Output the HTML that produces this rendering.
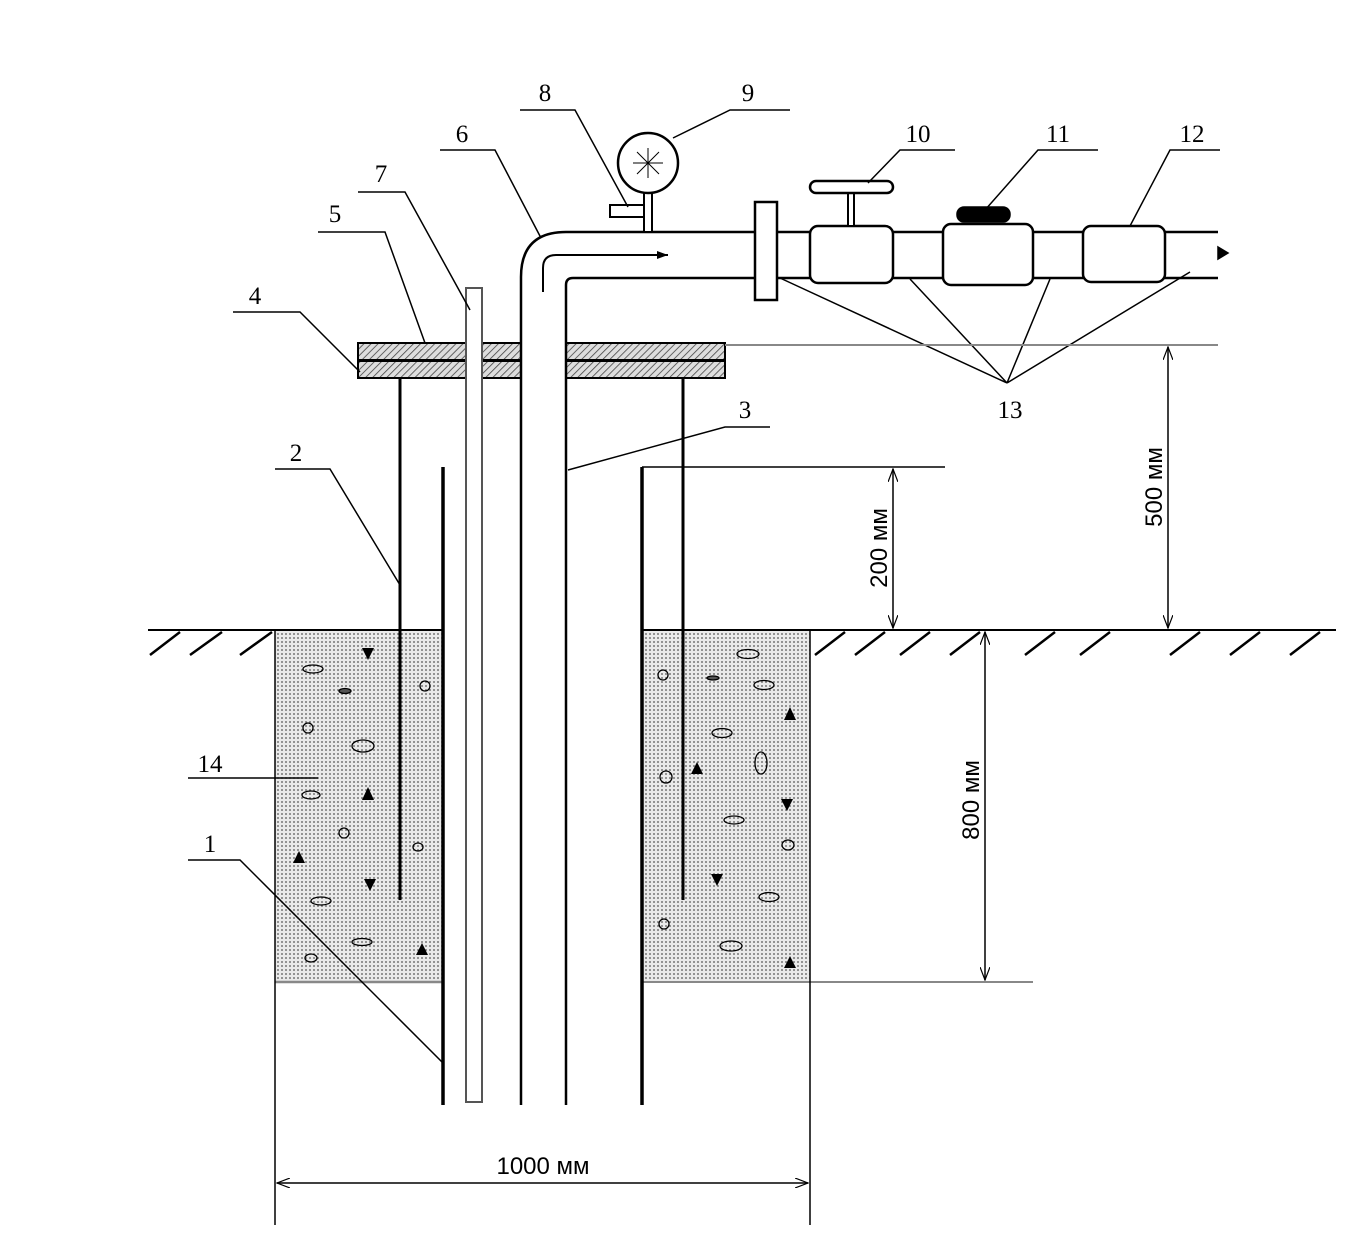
<!DOCTYPE html>
<html><head><meta charset="utf-8"><style>html,body{margin:0;padding:0;background:#fff}svg{display:block}</style></head>
<body>
<svg width="1356" height="1248" viewBox="0 0 1356 1248" xmlns="http://www.w3.org/2000/svg">
<defs>
<pattern id="dots" width="4" height="4" patternUnits="userSpaceOnUse"><rect width="4" height="4" fill="#eaeaea"/><circle cx="2" cy="2" r="0.9" fill="#555"/></pattern>
<pattern id="hatch" width="5" height="5" patternUnits="userSpaceOnUse" patternTransform="rotate(45)"><rect width="5" height="5" fill="#ddd"/><line x1="0" y1="0" x2="0" y2="5" stroke="#444" stroke-width="1.6"/></pattern>
<marker id="ar" markerWidth="14" markerHeight="10" refX="13" refY="5" orient="auto-start-reverse" markerUnits="userSpaceOnUse"><path d="M0,0 L13,5 L0,10" fill="none" stroke="#000" stroke-width="1.2"/></marker>
<marker id="af" markerWidth="12" markerHeight="10" refX="11" refY="5" orient="auto" markerUnits="userSpaceOnUse"><path d="M0,1 L11,5 L0,9z" fill="#000"/></marker>
</defs>
<g stroke="#000" fill="none" stroke-width="1.5">
<rect x="275" y="630" width="168" height="352" fill="url(#dots)" stroke="none"/>
<rect x="642" y="630" width="168" height="352" fill="url(#dots)" stroke="none"/>
<line x1="275" y1="982" x2="443" y2="982" stroke="#888" stroke-width="2.5"/>
<line x1="642" y1="982" x2="1033" y2="982" stroke="#888" stroke-width="2"/>
<line x1="148" y1="630" x2="443" y2="630" stroke-width="2"/>
<line x1="642" y1="630" x2="1336" y2="630" stroke-width="2"/>
<g stroke-width="2.5">
<path d="M150,655 L180,632 M190,655 L222,632 M240,655 L272,632 M815,655 L845,632 M855,655 L885,632 M900,655 L930,632 M950,655 L980,632 M1025,655 L1055,632 M1080,655 L1110,632 M1170,655 L1200,632 M1230,655 L1260,632 M1290,655 L1320,632"/>
</g>
<line x1="275" y1="630" x2="275" y2="1225"/>
<line x1="810" y1="630" x2="810" y2="1225"/>
<line x1="443" y1="467" x2="443" y2="1105" stroke-width="3.5"/>
<line x1="642" y1="467" x2="642" y2="1105" stroke-width="3.5"/>
<line x1="400" y1="378" x2="400" y2="900" stroke-width="3"/>
<line x1="683" y1="378" x2="683" y2="900" stroke-width="3"/>
<rect x="358" y="343" width="108" height="17" fill="url(#hatch)" stroke-width="2"/>
<rect x="358" y="361" width="108" height="17" fill="url(#hatch)" stroke-width="2"/>
<rect x="482" y="343" width="39" height="17" fill="url(#hatch)" stroke-width="2"/>
<rect x="482" y="361" width="39" height="17" fill="url(#hatch)" stroke-width="2"/>
<rect x="566" y="343" width="159" height="17" fill="url(#hatch)" stroke-width="2"/>
<rect x="566" y="361" width="159" height="17" fill="url(#hatch)" stroke-width="2"/>
<rect x="466" y="288" width="16" height="814" fill="#fff" stroke="#555" stroke-width="2"/>
<path d="M521,1105 L521,277 Q521,232 566,232 L755,232" stroke-width="2.5"/>
<path d="M566,1105 L566,285 Q566,278 573,278 L755,278" stroke-width="2.5"/>
<path d="M543,292 L543,268 Q543,255 556,255 L668,255" stroke-width="2" marker-end="url(#af)"/>
<rect x="644" y="193" width="8" height="39" fill="#fff" stroke-width="2"/>
<rect x="610" y="205" width="34" height="12" fill="#fff" stroke-width="2"/>
<circle cx="648" cy="163" r="30" fill="#fff" stroke-width="2.5"/>
<path d="M648,148 L648,178 M633,163 L663,163 M637,152 L659,174 M637,174 L659,152" stroke-width="1"/>
<line x1="777" y1="232" x2="1218" y2="232" stroke-width="2.5"/>
<line x1="777" y1="278" x2="1218" y2="278" stroke-width="2.5"/>
<path d="M1218,247 L1228,253 L1218,259z" fill="#000"/>
<rect x="755" y="202" width="22" height="98" fill="#fff" stroke-width="2.5"/>
<rect x="810" y="226" width="83" height="57" rx="8" fill="#fff" stroke-width="2.5"/>
<rect x="848" y="192" width="6" height="34" fill="#fff" stroke-width="2"/>
<rect x="810" y="181" width="83" height="12" rx="6" fill="#fff" stroke-width="2.5"/>
<rect x="943" y="224" width="90" height="61" rx="8" fill="#fff" stroke-width="2.5"/>
<rect x="957" y="207" width="53" height="15" rx="7" fill="#000"/>
<rect x="1083" y="226" width="82" height="56" rx="8" fill="#fff" stroke-width="2.5"/>
<g stroke-width="1.3" fill="none">
<ellipse cx="313" cy="669" rx="10" ry="4"/><ellipse cx="345" cy="691" rx="6" ry="2.5" fill="#555"/><circle cx="425" cy="686" r="5"/>
<circle cx="308" cy="728" r="5"/><ellipse cx="363" cy="746" rx="11" ry="6"/><ellipse cx="311" cy="795" rx="9" ry="4"/>
<circle cx="344" cy="833" r="5"/><ellipse cx="418" cy="847" rx="5" ry="4"/><ellipse cx="321" cy="901" rx="10" ry="4"/>
<ellipse cx="362" cy="942" rx="10" ry="3.5"/><ellipse cx="311" cy="958" rx="6" ry="4"/>
<ellipse cx="748" cy="654" rx="11" ry="4.5"/><circle cx="663" cy="675" r="5"/><ellipse cx="713" cy="678" rx="6" ry="2" fill="#555"/>
<ellipse cx="764" cy="685" rx="10" ry="4.5"/><ellipse cx="722" cy="733" rx="10" ry="4.5"/><ellipse cx="761" cy="763" rx="6" ry="11"/>
<circle cx="666" cy="777" r="6"/><ellipse cx="734" cy="820" rx="10" ry="4"/><ellipse cx="788" cy="845" rx="6" ry="5"/>
<ellipse cx="769" cy="897" rx="10" ry="4.5"/><circle cx="664" cy="924" r="5"/><ellipse cx="731" cy="946" rx="11" ry="5"/>
</g>
<g fill="#000" stroke="none">
<path d="M362,648 L374,648 L368,660z"/><path d="M368,787 L374,800 L362,800z"/><path d="M299,851 L305,863 L293,863z"/>
<path d="M364,879 L376,879 L370,891z"/><path d="M422,943 L428,955 L416,955z"/>
<path d="M790,707 L796,720 L784,720z"/><path d="M697,762 L703,774 L691,774z"/><path d="M781,799 L793,799 L787,811z"/>
<path d="M711,874 L723,874 L717,886z"/><path d="M790,956 L796,968 L784,968z"/>
</g>
<g stroke-width="1.5">
<path d="M520,110 L575,110 L628,207"/>
<path d="M790,110 L730,110 L673,138"/>
<path d="M440,150 L495,150 L541,238"/>
<path d="M358,192 L405,192 L470,310"/>
<path d="M318,232 L385,232 L425,343"/>
<path d="M233,312 L300,312 L360,372"/>
<path d="M955,150 L900,150 L868,183"/>
<path d="M1098,150 L1038,150 L985,210"/>
<path d="M1220,150 L1170,150 L1130,226"/>
<path d="M780,278 L1007,383 L910,279 M1007,383 L1050,279 M1007,383 L1190,272"/>
<path d="M770,427 L725,427 L568,470"/>
<path d="M275,469 L330,469 L400,585"/>
<path d="M188,778 L318,778"/>
<path d="M188,860 L240,860 L443,1063"/>
</g>
<line x1="642" y1="467" x2="945" y2="467" stroke-width="1.5"/>
<line x1="893" y1="469" x2="893" y2="628" stroke-width="1.5" marker-start="url(#ar)" marker-end="url(#ar)"/>
<line x1="725" y1="345" x2="1218" y2="345" stroke="#888" stroke-width="2"/>
<line x1="1168" y1="347" x2="1168" y2="628" stroke-width="1.5" marker-start="url(#ar)" marker-end="url(#ar)"/>
<line x1="985" y1="632" x2="985" y2="980" stroke-width="1.5" marker-start="url(#ar)" marker-end="url(#ar)"/>
<line x1="277" y1="1183" x2="808" y2="1183" stroke-width="1.5" marker-start="url(#ar)" marker-end="url(#ar)"/>
</g>
<g font-family="Liberation Serif, serif" font-size="25" fill="#000" text-anchor="middle">
<text x="545" y="101">8</text><text x="748" y="101">9</text><text x="462" y="142">6</text><text x="381" y="182">7</text>
<text x="335" y="222">5</text><text x="255" y="304">4</text><text x="918" y="142">10</text><text x="1058" y="142">11</text>
<text x="1192" y="142">12</text><text x="1010" y="418">13</text><text x="745" y="418">3</text><text x="296" y="461">2</text>
<text x="210" y="772">14</text><text x="210" y="852">1</text>
</g>
<g font-family="Liberation Sans, sans-serif" font-size="24" fill="#000" text-anchor="middle">
<text x="543" y="1174">1000 мм</text>
<text transform="translate(887,548) rotate(-90)">200 мм</text>
<text transform="translate(1162,487) rotate(-90)">500 мм</text>
<text transform="translate(979,800) rotate(-90)">800 мм</text>
</g>
</svg>
</body></html>
